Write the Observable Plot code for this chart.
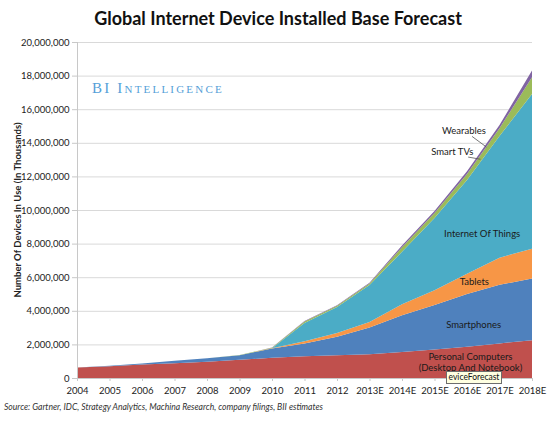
<!DOCTYPE html>
<html>
<head>
<meta charset="utf-8">
<script src="https://cdn.jsdelivr.net/npm/d3@7"></script>
<script src="https://cdn.jsdelivr.net/npm/@observablehq/plot@0.6"></script>
<style>
  html, body { margin: 0; padding: 0; background: #fff; }
  #wrap { position: relative; width: 556px; height: 423px; font-family: Lato, "Open Sans", sans-serif; }
  #title { height: 34px; line-height: 36px; text-align: center; font-weight: bold; font-size: 18px; color: #111; }
  #chart svg { display: block; }
  #ylabel { position: absolute; left: 17px; top: 210px; transform: translate(-50%, -50%) rotate(-90deg);
            white-space: nowrap; font-size: 9.5px; font-weight: bold; color: #222; }
  #brand { position: absolute; left: 92px; top: 80px; font-family: "Liberation Serif", serif; font-variant: small-caps;
           font-size: 15px; letter-spacing: 2.2px; color: #55a0d8; white-space: nowrap; }
  #tip { position: absolute; left: 446px; top: 371px; width: 54px; height: 11px; background: #ffffe1;
         border: 1px solid #6d6d6d; font-size: 8.5px; line-height: 11px; text-align: center; color: #111; }
  #source { position: absolute; left: 4px; top: 402px; font-size: 8.6px; font-style: italic; color: #333; white-space: nowrap; }
</style>
</head>
<body>
<div id="wrap">
  <div id="title">Global Internet Device Installed Base Forecast</div>
  <div id="chart"></div>
  <div id="ylabel">Number Of Devices In Use (In Thousands)</div>
  <div id="brand">BI Intelligence</div>
  <div id="tip">eviceForecast</div>
  <div id="source">Source: Gartner, IDC, Strategy Analytics, Machina Research, company filings, BII estimates</div>
</div>
<script>
// Categories (x axis)
const years = ["2004","2005","2006","2007","2008","2009","2010","2011","2012","2013E","2014E","2015E","2016E","2017E","2018E"];

// Series names (bottom to top) and values (devices in use, in thousands)
const seriesNames = ["Personal Computers", "Smartphones", "Tablets", "Internet Of Things", "Smart TVs", "Wearables"];
const pcs         = [620000, 700000, 800000, 880000, 970000, 1080000, 1200000, 1290000, 1350000, 1410000, 1550000, 1700000, 1860000, 2060000, 2250000];
const smartphones = [10000, 30000, 70000, 150000, 200000, 280000, 550000, 760000, 1100000, 1590000, 2190000, 2650000, 3140000, 3490000, 3670000];
const tablets     = [0, 0, 0, 0, 0, 0, 20000, 140000, 230000, 340000, 650000, 870000, 1210000, 1610000, 1780000];
const iot         = [0, 0, 0, 0, 0, 0, 0, 1090000, 1550000, 2190000, 3120000, 4300000, 5570000, 7250000, 9200000];
const smartTVs    = [0, 0, 0, 0, 0, 10000, 30000, 90000, 70000, 90000, 280000, 300000, 360000, 450000, 1000000];
const wearables   = [0, 0, 0, 0, 0, 0, 10000, 30000, 30000, 50000, 100000, 120000, 160000, 200000, 400000];
const seriesValues = [pcs, smartphones, tablets, iot, smartTVs, wearables];
const seriesColors = ["#C0504D", "#4F81BD", "#F79646", "#4BACC6", "#9BBB59", "#8064A2"];

// Y tick values
const yTicks = [0, 2000000, 4000000, 6000000, 8000000, 10000000, 12000000, 14000000, 16000000, 18000000, 20000000];

// In-chart labels (x = category index, y = value)
const labelText = ["Wearables", "Smart TVs", "Internet Of Things", "Tablets", "Smartphones", "Personal Computers\n(Desktop And Notebook)"];
const labelX    = [11.89, 11.53, 12.45, 12.21, 12.19, 12.09];
const labelY    = [14770000, 13540000, 8610000, 5780000, 3240000, 960000];
const labels = labelText.map((t, k) => ({text: t, x: labelX[k], y: labelY[k]}));

// Leader lines for the thin bands
const leaders = [
  {x1: 12.14, y1: 14410000, x2: 12.58, y2: 13780000},
  {x1: 12.02, y1: 13180000, x2: 12.40, y2: 13050000}
];

const table = seriesNames.flatMap((s, k) => seriesValues[k].map((v, i) => ({series: s, i, value: v})));

const chart = Plot.plot({
  width: 556,
  height: 366,
  marginLeft: 77,
  marginRight: 24,
  marginTop: 8,
  marginBottom: 22,
  x: {domain: [0, years.length - 1]},
  y: {domain: [0, 20000000]},
  color: {domain: seriesNames, range: seriesColors},
  style: {fontFamily: "Lato, 'Open Sans', sans-serif", fontSize: "9.5px", color: "#222", background: "white"},
  marks: [
    Plot.gridY(yTicks, {stroke: "#d9d9d9", strokeOpacity: 1}),
    Plot.areaY(table, {x: "i", y: "value", fill: "series", order: seriesNames}),
    Plot.ruleX([0], {stroke: "#c8c8c8"}),
    Plot.ruleY([0], {stroke: "#c8c8c8"}),
    Plot.axisY(yTicks, {tickFormat: d3.format(","), tickSize: 5, tickPadding: 3, stroke: "#c8c8c8", fill: "#222", label: null}),
    Plot.axisX(d3.range(years.length), {tickFormat: i => years[i], tickSize: 3, tickPadding: 6, stroke: "#c8c8c8", fill: "#222", label: null}),
    Plot.link(leaders, {x1: "x1", y1: "y1", x2: "x2", y2: "y2", stroke: "#555", strokeWidth: 0.8}),
    Plot.text(labels, {x: "x", y: "y", text: "text", fill: "#1a1a1a", fontSize: 9.5, lineHeight: 1.15})
  ]
});
document.getElementById("chart").appendChild(chart);
</script>
</body>
</html>
